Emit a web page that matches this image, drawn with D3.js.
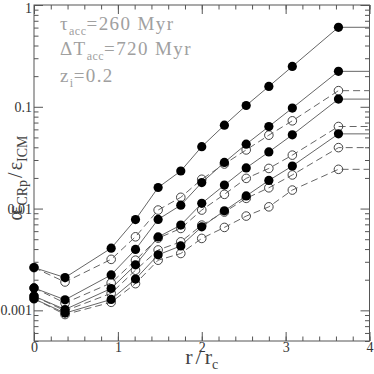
<!DOCTYPE html>
<html><head><meta charset="utf-8">
<script src="https://cdn.jsdelivr.net/npm/d3@7"></script>
<style>body{margin:0;background:#fff}svg{display:block}</style>
</head><body>
<script>
// radii r/r_c
const radii = [0, 0.37, 0.92, 1.21, 1.48, 1.75, 2.0, 2.27, 2.53, 2.80, 3.08, 3.63];
// filled-symbol (solid line) series
const filledA = [0.00263, 0.00210, 0.00408, 0.00779, 0.0161, 0.0234, 0.0406, 0.0660, 0.103, 0.1585, 0.249, 0.604];
const filledB = [0.00166, 0.00127, 0.00223, 0.00397, 0.00783, 0.0108, 0.0180, 0.0284, 0.0429, 0.0640, 0.0971, 0.223];
const filledC = [0.00138, 0.00102, 0.00164, 0.00280, 0.00526, 0.00688, 0.01125, 0.0170, 0.0251, 0.0360, 0.0530, 0.119];
const filledD = [0.00130, 0.00094, 0.00128, 0.00203, 0.00351, 0.00430, 0.00662, 0.00951, 0.0133, 0.0189, 0.0262, 0.0542];
// open-symbol (dashed line) series
const openA = [0.00263, 0.00190, 0.00317, 0.00528, 0.00967, 0.0129, 0.0194, 0.0274, 0.0377, 0.0526, 0.0728, 0.144];
const openB = [0.00166, 0.00118, 0.00186, 0.00311, 0.00512, 0.00638, 0.00967, 0.0138, 0.0198, 0.0248, 0.0335, 0.0640];
const openC = [0.00138, 0.00099, 0.00147, 0.00248, 0.00392, 0.00471, 0.00688, 0.00924, 0.0126, 0.0160, 0.0214, 0.0397];
const openD = [0.00130, 0.00091, 0.00120, 0.00183, 0.00311, 0.00362, 0.00509, 0.00653, 0.00844, 0.0104, 0.0152, 0.0243];

const xDomain = [0, 4];
const yDomain = [0.0005, 1];
const xMajor = [0, 1, 2, 3, 4];
const xMinor = d3.range(0, 4.001, 0.2);
const yMajor = [0.001, 0.01, 0.1, 1];
const yMinorMult = [2,3,4,5,6,7,8,9];
const yLabels = ["0.001", "0.01", "0.1", "1"];
const notes = [
  {main: "τ", sub: "acc", rest: "=260  Myr"},
  {main: "ΔT", sub: "acc", rest: "=720  Myr"},
  {main: "z", sub: "i", rest: "=0.2"}
];

const W = 374, H = 374;
const L = 34, R = 369.5, T = 5, B = 341;
const FONT = "'Liberation Serif','DejaVu Serif',serif";
const svg = d3.select("body").append("svg").attr("width", W).attr("height", H)
  .style("font-family", FONT);

const x = d3.scaleLinear().domain(xDomain).range([L, R]);
const y = d3.scaleLog().domain(yDomain).range([B, T]);

const axisColor = "#555";
svg.append("rect").attr("x", L).attr("y", T).attr("width", R - L).attr("height", B - T)
  .attr("fill", "none").attr("stroke", axisColor).attr("stroke-width", 1);

const yMinor = [];
[0.0001, 0.001, 0.01, 0.1].forEach(d => yMinorMult.forEach(m => { const v = d * m; if (v >= yDomain[0] && v <= yDomain[1]) yMinor.push(v); }));

function styleAxis(g) {
  g.select(".domain").remove();
  g.selectAll("line").attr("stroke", axisColor);
  g.selectAll("text").attr("fill", "#333").style("font-size", "14px").style("font-family", FONT);
}
svg.append("g").attr("transform", `translate(0,${B})`)
  .call(d3.axisBottom(x).tickValues(xMinor).tickSize(-4.5).tickFormat("")).call(styleAxis);
svg.append("g").attr("transform", `translate(0,${B})`)
  .call(d3.axisBottom(x).tickValues(xMajor).tickSize(-9).tickPadding(1).tickFormat(d3.format("d"))).call(styleAxis);
svg.append("g").attr("transform", `translate(0,${T})`)
  .call(d3.axisTop(x).tickValues(xMinor).tickSize(-4.5).tickFormat("")).call(styleAxis);
svg.append("g").attr("transform", `translate(0,${T})`)
  .call(d3.axisTop(x).tickValues(xMajor).tickSize(-9).tickFormat("")).call(styleAxis);
svg.append("g").attr("transform", `translate(${L},0)`)
  .call(d3.axisLeft(y).tickValues(yMinor).tickSize(-4.5).tickFormat("")).call(styleAxis);
const yAx = svg.append("g").attr("transform", `translate(${L},0)`)
  .call(d3.axisLeft(y).tickValues(yMajor).tickSize(-9).tickPadding(2).tickFormat((d, i) => yLabels[i])).call(styleAxis);
yAx.selectAll("text").filter(d => d === 1).attr("dy", "0.55em");
svg.append("g").attr("transform", `translate(${R},0)`)
  .call(d3.axisRight(y).tickValues(yMinor).tickSize(-4.5).tickFormat("")).call(styleAxis);
svg.append("g").attr("transform", `translate(${R},0)`)
  .call(d3.axisRight(y).tickValues(yMajor).tickSize(-9).tickFormat("")).call(styleAxis);

const line = d3.line().x(d => x(d[0])).y(d => y(d[1]));
function pts(vals) {
  const p = radii.map((r, i) => [r, vals[i]]);
  p.push([xDomain[1], vals[vals.length - 1]]);
  return p;
}
const openSeries = [openA, openB, openC, openD];
const filledSeries = [filledA, filledB, filledC, filledD];

openSeries.forEach(vals => {
  svg.append("path").attr("d", line(pts(vals))).attr("fill", "none")
    .attr("stroke", "#666").attr("stroke-width", 1).attr("stroke-dasharray", "7,4");
});
filledSeries.forEach(vals => {
  svg.append("path").attr("d", line(pts(vals))).attr("fill", "none")
    .attr("stroke", "#666").attr("stroke-width", 1);
});
openSeries.forEach(vals => {
  svg.append("g").selectAll("circle").data(vals).join("circle")
    .attr("cx", (d, i) => x(radii[i])).attr("cy", d => y(d)).attr("r", 4.3)
    .attr("fill", "none").attr("stroke", "#444").attr("stroke-width", 1);
});
filledSeries.forEach(vals => {
  svg.append("g").selectAll("circle").data(vals).join("circle")
    .attr("cx", (d, i) => x(radii[i])).attr("cy", d => y(d)).attr("r", 4.6)
    .attr("fill", "#000");
});

// annotation
const noteY = [30, 55, 82];
notes.forEach((n, i) => {
  const t = svg.append("text").attr("x", 60).attr("y", noteY[i]).attr("fill", "#a0a0a0")
    .style("font-size", "19px").style("letter-spacing", "1.4px");
  t.append("tspan").text(n.main);
  t.append("tspan").attr("dy", 5).style("font-size", "12px").style("letter-spacing", "0.5px").text(n.sub);
  t.append("tspan").attr("dy", -5).text(n.rest);
});

// x label
const xl = svg.append("text").attr("x", x(2)).attr("y", 364).attr("text-anchor", "middle")
  .attr("fill", "#444").style("font-size", "22px");
xl.append("tspan").text("r");
xl.append("tspan").attr("dx", 3).text("/");
xl.append("tspan").attr("dx", 3).text("r");
xl.append("tspan").attr("dy", 5).style("font-size", "14px").text("c");

// y label
const yl = svg.append("text").attr("transform", "translate(22,178) rotate(-90)").attr("text-anchor", "middle")
  .attr("fill", "#444").style("font-size", "20px");
yl.append("tspan").text("α");
yl.append("tspan").attr("dx", -4).text("ε");
yl.append("tspan").attr("dy", 5).style("font-size", "14px").text("CRp");
yl.append("tspan").attr("dy", -5).attr("dx", 2).text("/");
yl.append("tspan").attr("dx", 2).text("ε");
yl.append("tspan").attr("dy", 5).style("font-size", "14px").text("ICM");
</script>
</body></html>
